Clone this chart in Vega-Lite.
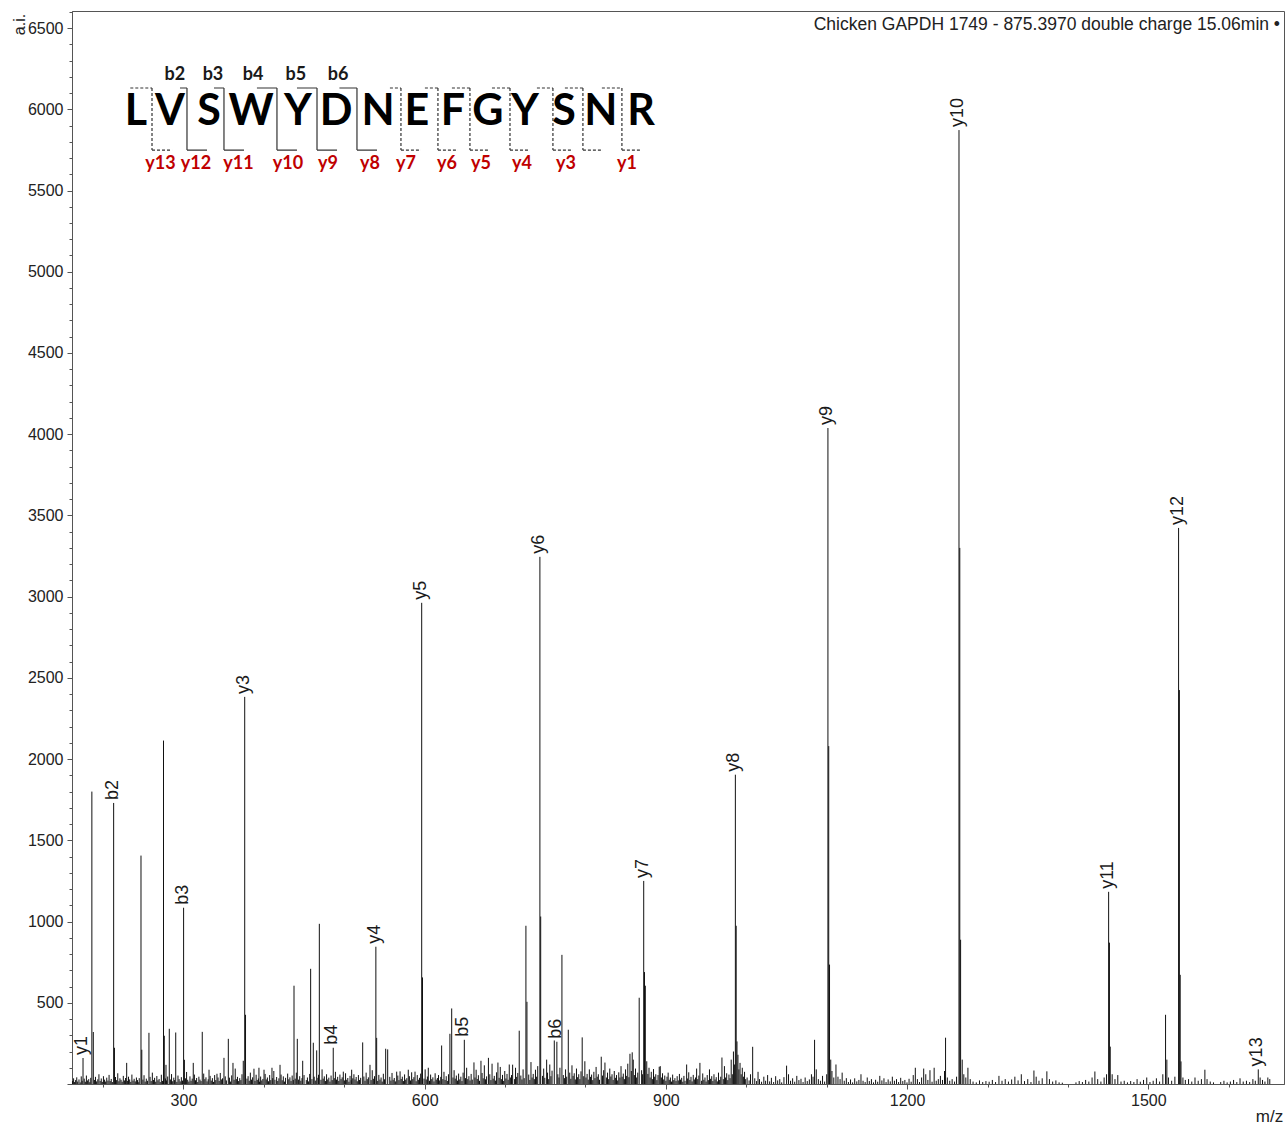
{
"$schema": "https://vega.github.io/schema/vega-lite/v6.json",
"autosize": {"type": "none"},
"width": 1212,
"height": 1073,
"padding": {"left": 72, "top": 11, "right": 2, "bottom": 42},
"background": "white",
"title": {"text": "Chicken GAPDH 1749 - 875.3970 double charge 15.06min •", "anchor": "end", "frame": "group", "orient": "top", "offset": -44, "baseline": "alphabetic", "font": "Liberation Sans", "fontSize": 17.5, "fontWeight": "normal", "color": "#222", "dx": -4},
"config": {"view": {"stroke": "#555", "strokeWidth": 1}, "font": "Liberation Sans"},
"datasets": {
"pk": [
{"m":175.1,"i":160},{"m":186.1,"i":1800},{"m":187.9,"i":320},{"m":213.2,"i":1730},{"m":214.2,"i":223},{"m":229.4,"i":130},{"m":247.2,"i":1406},{"m":248.2,"i":211},{"m":257.1,"i":315},{"m":275.2,"i":2114},{"m":276.2,"i":297},{"m":278.3,"i":118},{"m":282.4,"i":340},{"m":290.4,"i":317},{"m":300.2,"i":1085},{"m":301.2,"i":149},{"m":312.2,"i":130},{"m":323.4,"i":321},{"m":331.8,"i":88},{"m":341.7,"i":63},{"m":350.4,"i":161},{"m":355.8,"i":278},{"m":361.6,"i":130},{"m":374.4,"i":143},{"m":376.2,"i":2383},{"m":377.2,"i":426},{"m":387.7,"i":94},{"m":393.9,"i":100},{"m":400.2,"i":88},{"m":410.1,"i":100},{"m":420.1,"i":118},{"m":437.5,"i":605},{"m":441.6,"i":278},{"m":448.3,"i":143},{"m":458.2,"i":709},{"m":461.5,"i":254},{"m":465.7,"i":207},{"m":469.0,"i":986},{"m":486.3,"i":223},{"m":498.8,"i":76},{"m":509.2,"i":88},{"m":522.9,"i":256},{"m":532.0,"i":118},{"m":539.3,"i":845},{"m":540.3,"i":284},{"m":551.5,"i":217},{"m":554.0,"i":213},{"m":565.2,"i":76},{"m":579.6,"i":88},{"m":588.0,"i":76},{"m":596.3,"i":2962},{"m":597.3,"i":656},{"m":604.5,"i":100},{"m":621.1,"i":237},{"m":631.4,"i":309},{"m":633.6,"i":465},{"m":649.3,"i":272},{"m":661.3,"i":133},{"m":670.0,"i":143},{"m":679.3,"i":161},{"m":691.1,"i":132},{"m":709.4,"i":119},{"m":717.6,"i":328},{"m":725.9,"i":974},{"m":727.2,"i":506},{"m":743.3,"i":3245},{"m":744.3,"i":1031},{"m":751.7,"i":150},{"m":761.2,"i":268},{"m":764.4,"i":260},{"m":770.7,"i":795},{"m":778.6,"i":334},{"m":795.9,"i":287},{"m":819.6,"i":168},{"m":824.2,"i":132},{"m":855.3,"i":186},{"m":858.1,"i":195},{"m":866.8,"i":531},{"m":872.4,"i":1250},{"m":873.4,"i":689},{"m":874.4,"i":605},{"m":891.7,"i":106},{"m":925.8,"i":120},{"m":942.3,"i":130},{"m":969.7,"i":163},{"m":986.4,"i":1904},{"m":987.4,"i":974},{"m":988.4,"i":262},{"m":1007.9,"i":229},{"m":1050.1,"i":113},{"m":1084.9,"i":272},{"m":1101.5,"i":4038},{"m":1102.5,"i":2080},{"m":1103.5,"i":735},{"m":1247.8,"i":285},{"m":1264.5,"i":5872},{"m":1265.5,"i":3300},{"m":1266.5,"i":888},{"m":1450.6,"i":1183},{"m":1451.6,"i":870},{"m":1452.6,"i":230},{"m":1521.4,"i":426},{"m":1537.6,"i":3423},{"m":1538.6,"i":2425},{"m":1539.6,"i":672},{"m":1540.6,"i":139},{"m":1636.7,"i":90},
{"m":162.0,"i":18},{"m":163.4,"i":35},{"m":164.6,"i":12},{"m":165.9,"i":24},{"m":167.3,"i":41},{"m":168.5,"i":15},{"m":170.1,"i":28},{"m":171.6,"i":10},{"m":172.9,"i":47},{"m":174.0,"i":20},{"m":176.6,"i":33},{"m":178.0,"i":14},{"m":179.3,"i":52},{"m":180.8,"i":22},{"m":182.2,"i":30},{"m":183.5,"i":11},{"m":184.7,"i":38},{"m":189.3,"i":25},{"m":190.6,"i":44},{"m":192.0,"i":16},{"m":193.5,"i":29},{"m":194.9,"i":60},{"m":196.4,"i":19},{"m":197.8,"i":34},{"m":199.1,"i":13},{"m":200.5,"i":48},{"m":201.9,"i":27},{"m":203.2,"i":15},{"m":204.6,"i":39},{"m":206.1,"i":21},{"m":207.5,"i":56},{"m":208.9,"i":18},{"m":210.2,"i":31},{"m":211.6,"i":12},{"m":215.5,"i":43},{"m":216.9,"i":24},{"m":218.3,"i":66},{"m":219.7,"i":17},{"m":221.0,"i":35},{"m":222.4,"i":26},{"m":223.8,"i":14},{"m":225.2,"i":50},{"m":226.6,"i":22},{"m":228.0,"i":37},{"m":230.3,"i":19},{"m":231.7,"i":45},{"m":233.1,"i":28},{"m":234.5,"i":13},{"m":235.9,"i":58},{"m":237.3,"i":21},{"m":238.7,"i":32},{"m":240.1,"i":16},{"m":241.5,"i":40},{"m":242.9,"i":24},{"m":244.4,"i":11},{"m":245.0,"i":36},{"m":249.6,"i":27},{"m":251.0,"i":54},{"m":252.4,"i":15},{"m":253.8,"i":33},{"m":255.2,"i":20},{"m":258.5,"i":44},{"m":259.9,"i":18},{"m":261.3,"i":70},{"m":262.7,"i":25},{"m":264.1,"i":38},{"m":265.5,"i":14},{"m":266.9,"i":49},{"m":268.3,"i":23},{"m":269.7,"i":31},{"m":271.1,"i":12},{"m":272.5,"i":57},{"m":273.9,"i":19},{"m":277.6,"i":34},{"m":279.0,"i":22},{"m":280.4,"i":46},{"m":283.8,"i":28},{"m":285.2,"i":61},{"m":286.6,"i":17},{"m":288.0,"i":39},{"m":289.0,"i":24},{"m":291.8,"i":13},{"m":293.2,"i":52},{"m":294.6,"i":30},{"m":296.0,"i":16},{"m":297.4,"i":42},{"m":298.8,"i":21},{"m":302.5,"i":35},{"m":303.9,"i":74},{"m":305.3,"i":26},{"m":306.7,"i":15},{"m":308.1,"i":47},{"m":309.5,"i":20},{"m":310.9,"i":33},{"m":313.6,"i":58},{"m":315.0,"i":23},{"m":316.4,"i":37},{"m":317.8,"i":12},{"m":319.2,"i":45},{"m":320.6,"i":27},{"m":321.9,"i":18},{"m":325.2,"i":64},{"m":326.6,"i":30},{"m":328.0,"i":41},{"m":329.4,"i":16},{"m":330.8,"i":29},{"m":333.2,"i":50},{"m":334.6,"i":21},{"m":336.0,"i":36},{"m":337.4,"i":13},{"m":338.8,"i":55},{"m":340.2,"i":24},{"m":343.0,"i":40},{"m":344.4,"i":19},{"m":345.8,"i":68},{"m":347.2,"i":28},{"m":348.6,"i":35},{"m":352.0,"i":47},{"m":353.4,"i":22},{"m":357.2,"i":39},{"m":358.6,"i":15},{"m":360.0,"i":53},{"m":363.0,"i":26},{"m":364.4,"i":95},{"m":365.8,"i":30},{"m":367.2,"i":44},{"m":368.6,"i":18},{"m":370.0,"i":36},{"m":371.4,"i":24},{"m":372.8,"i":60},{"m":379.0,"i":33},{"m":380.4,"i":48},{"m":381.8,"i":20},{"m":383.2,"i":70},{"m":384.6,"i":27},{"m":386.0,"i":41},{"m":389.0,"i":19},{"m":390.4,"i":57},{"m":391.8,"i":25},{"m":393.2,"i":34},{"m":394.6,"i":14},{"m":396.0,"i":46},{"m":397.4,"i":22},{"m":398.8,"i":31},
{"m":401.6,"i":62},{"m":403.0,"i":28},{"m":404.4,"i":40},{"m":405.8,"i":17},{"m":407.2,"i":55},{"m":408.6,"i":24},{"m":411.0,"i":36},{"m":412.4,"i":80},{"m":413.8,"i":26},{"m":415.9,"i":43},{"m":417.3,"i":19},{"m":418.7,"i":35},{"m":421.4,"i":58},{"m":422.8,"i":23},{"m":424.2,"i":47},{"m":425.6,"i":15},{"m":427.0,"i":38},{"m":429.6,"i":64},{"m":431.0,"i":29},{"m":432.4,"i":41},{"m":433.8,"i":18},{"m":435.2,"i":52},{"m":436.6,"i":25},{"m":439.0,"i":33},{"m":440.4,"i":70},{"m":443.2,"i":27},{"m":444.6,"i":48},{"m":446.0,"i":20},{"m":447.4,"i":36},{"m":450.0,"i":55},{"m":452.8,"i":24},{"m":454.2,"i":40},{"m":455.6,"i":16},{"m":457.0,"i":62},{"m":459.8,"i":30},{"m":462.6,"i":45},{"m":464.0,"i":21},{"m":467.2,"i":38},{"m":468.0,"i":57},{"m":471.0,"i":26},{"m":472.4,"i":90},{"m":473.8,"i":33},{"m":475.2,"i":47},{"m":476.6,"i":18},{"m":478.0,"i":60},{"m":479.4,"i":28},{"m":480.8,"i":39},{"m":482.2,"i":15},{"m":483.6,"i":52},{"m":485.0,"i":24},{"m":487.6,"i":36},{"m":489.0,"i":75},{"m":490.4,"i":27},{"m":491.8,"i":44},{"m":493.2,"i":19},{"m":494.6,"i":58},{"m":496.0,"i":30},{"m":497.4,"i":41},{"m":500.2,"i":22},{"m":501.6,"i":66},{"m":503.0,"i":26},{"m":504.4,"i":37},{"m":505.8,"i":14},{"m":507.2,"i":50},{"m":508.6,"i":23},{"m":510.6,"i":35},{"m":512.0,"i":60},{"m":513.4,"i":28},{"m":514.8,"i":43},{"m":516.2,"i":17},{"m":517.6,"i":55},{"m":519.0,"i":25},{"m":520.4,"i":38},{"m":524.4,"i":46},{"m":525.8,"i":20},{"m":527.2,"i":70},{"m":528.6,"i":30},{"m":530.0,"i":41},{"m":533.4,"i":24},{"m":534.8,"i":85},{"m":536.2,"i":32},{"m":537.6,"i":48},{"m":541.6,"i":19},{"m":543.0,"i":56},{"m":544.4,"i":27},{"m":545.8,"i":40},{"m":547.2,"i":15},{"m":548.6,"i":63},{"m":550.0,"i":29},{"m":556.6,"i":44},{"m":558.0,"i":21},{"m":559.4,"i":68},{"m":560.8,"i":26},{"m":562.2,"i":37},{"m":563.6,"i":16},{"m":566.6,"i":52},{"m":568.0,"i":24},{"m":569.4,"i":78},{"m":570.8,"i":31},{"m":572.2,"i":45},{"m":573.6,"i":18},{"m":575.0,"i":59},{"m":576.4,"i":27},{"m":577.8,"i":36},{"m":581.0,"i":48},{"m":582.4,"i":22},{"m":583.8,"i":72},{"m":585.2,"i":30},{"m":586.6,"i":42},{"m":589.4,"i":17},{"m":590.8,"i":55},{"m":592.2,"i":26},{"m":593.6,"i":38},{"m":595.0,"i":64},{"m":599.2,"i":33},{"m":600.6,"i":90},{"m":602.0,"i":28},{"m":603.4,"i":46},{"m":606.0,"i":20},{"m":607.4,"i":58},{"m":608.8,"i":30},{"m":610.2,"i":41},{"m":611.6,"i":16},{"m":613.0,"i":66},{"m":614.4,"i":27},{"m":615.8,"i":37},{"m":617.2,"i":55},{"m":618.6,"i":22},{"m":620.0,"i":44},{"m":622.6,"i":30},{"m":624.0,"i":75},{"m":625.4,"i":25},{"m":626.8,"i":48},{"m":628.2,"i":19},{"m":629.6,"i":60},{"m":635.2,"i":40},{"m":636.6,"i":85},{"m":638.0,"i":33},{"m":639.4,"i":52},{"m":640.8,"i":21},{"m":642.2,"i":64},{"m":643.6,"i":28},{"m":645.0,"i":45},{"m":646.4,"i":18},{"m":647.8,"i":70},{"m":650.8,"i":36},{"m":652.2,"i":100},{"m":653.6,"i":30},{"m":655.0,"i":48},{"m":656.4,"i":22},{"m":657.8,"i":62},{"m":659.2,"i":27},{"m":662.6,"i":40},{"m":664.0,"i":88},{"m":665.4,"i":31},{"m":666.8,"i":54},{"m":668.2,"i":20},{"m":671.4,"i":68},{"m":672.8,"i":35},{"m":674.2,"i":115},{"m":675.6,"i":29},{"m":677.0,"i":47},{"m":681.0,"i":60},{"m":682.4,"i":24},{"m":683.8,"i":125},{"m":685.2,"i":33},{"m":686.6,"i":50},{"m":688.0,"i":21},{"m":689.4,"i":72},{"m":692.6,"i":38},{"m":694.0,"i":105},{"m":695.4,"i":30},{"m":696.8,"i":56},{"m":698.2,"i":19},{"m":699.6,"i":80},{"m":701.0,"i":34},{"m":702.4,"i":62},{"m":703.8,"i":26},{"m":705.2,"i":120},{"m":706.6,"i":40},{"m":708.0,"i":55},{"m":711.6,"i":30},{"m":713.0,"i":100},{"m":714.4,"i":44},{"m":715.8,"i":68},{"m":719.6,"i":52},{"m":721.0,"i":28},{"m":722.4,"i":90},{"m":723.8,"i":36},{"m":729.4,"i":58},{"m":730.8,"i":25},{"m":732.2,"i":135},{"m":733.6,"i":40},{"m":735.0,"i":62},{"m":736.4,"i":30},{"m":737.8,"i":88},{"m":739.2,"i":45},{"m":740.6,"i":110},{"m":746.6,"i":50},{"m":748.0,"i":95},{"m":749.4,"i":38},{"m":752.8,"i":70},{"m":754.2,"i":30},{"m":755.6,"i":120},{"m":757.0,"i":48},{"m":758.4,"i":82},{"m":765.6,"i":60},{"m":767.0,"i":40},{"m":768.2,"i":100},{"m":772.4,"i":55},{"m":773.8,"i":36},{"m":775.2,"i":90},{"m":776.6,"i":45},{"m":780.4,"i":70},{"m":781.8,"i":32},{"m":783.2,"i":115},{"m":784.6,"i":50},{"m":786.0,"i":66},{"m":787.4,"i":28},{"m":788.8,"i":95},{"m":790.2,"i":42},{"m":791.6,"i":60},{"m":793.0,"i":30},{"m":794.4,"i":78},{"m":797.8,"i":48},{"m":799.2,"i":140},{"m":800.6,"i":40},{"m":802.0,"i":62},{"m":803.4,"i":27},{"m":804.8,"i":90},{"m":806.2,"i":44},{"m":807.6,"i":58},{"m":809.0,"i":24},{"m":810.4,"i":75},{"m":811.8,"i":36},{"m":813.2,"i":105},{"m":814.6,"i":45},{"m":816.0,"i":60},{"m":817.4,"i":26},{"m":821.2,"i":52},{"m":822.6,"i":85},{"m":826.0,"i":40},{"m":827.4,"i":70},{"m":828.8,"i":30},{"m":830.2,"i":95},{"m":831.6,"i":46},{"m":833.0,"i":60},{"m":834.4,"i":25},{"m":835.8,"i":80},{"m":837.2,"i":38},{"m":838.6,"i":55},{"m":840.0,"i":22},{"m":841.4,"i":72},{"m":842.8,"i":40},{"m":844.2,"i":110},{"m":845.6,"i":45},{"m":847.0,"i":64},{"m":848.4,"i":30},{"m":849.8,"i":90},{"m":851.2,"i":50},{"m":852.6,"i":125},{"m":854.0,"i":42},{"m":857.0,"i":80},{"m":859.4,"i":150},{"m":860.8,"i":55},{"m":862.2,"i":95},{"m":863.6,"i":40},{"m":865.0,"i":70},{"m":869.8,"i":85},{"m":871.0,"i":60},{"m":876.2,"i":140},{"m":877.6,"i":62},{"m":879.0,"i":100},{"m":880.4,"i":40},{"m":881.8,"i":75},{"m":883.2,"i":30},{"m":884.6,"i":92},{"m":886.0,"i":45},{"m":887.4,"i":60},{"m":888.8,"i":24},{"m":890.2,"i":55},{"m":893.0,"i":110},{"m":894.4,"i":40},{"m":895.8,"i":66},{"m":897.2,"i":28},{"m":898.6,"i":52},{"m":900.0,"i":20},{"m":901.4,"i":45},{"m":902.8,"i":70},{"m":904.2,"i":26},{"m":905.6,"i":40},{"m":907.0,"i":15},{"m":908.4,"i":58},{"m":909.8,"i":24},{"m":911.2,"i":36},{"m":912.6,"i":18},{"m":914.0,"i":48},{"m":915.4,"i":22},{"m":916.8,"i":62},{"m":918.2,"i":27},{"m":919.6,"i":38},{"m":921.0,"i":14},{"m":922.4,"i":50},{"m":923.8,"i":20},{"m":927.0,"i":34},{"m":928.4,"i":72},{"m":929.8,"i":25},{"m":931.2,"i":44},{"m":932.6,"i":16},{"m":934.0,"i":56},{"m":935.4,"i":28},{"m":936.8,"i":40},{"m":938.2,"i":95},{"m":939.6,"i":30},{"m":941.0,"i":52},{"m":944.4,"i":20},{"m":945.8,"i":65},{"m":947.2,"i":26},{"m":948.6,"i":40},{"m":950.0,"i":15},{"m":951.4,"i":55},{"m":952.8,"i":24},{"m":954.2,"i":90},{"m":955.6,"i":32},{"m":957.0,"i":48},{"m":958.4,"i":18},{"m":959.8,"i":60},{"m":961.2,"i":28},{"m":962.6,"i":42},{"m":964.0,"i":16},{"m":965.4,"i":70},{"m":966.8,"i":25},{"m":968.2,"i":45},{"m":971.4,"i":30},{"m":972.8,"i":110},{"m":974.2,"i":40},{"m":975.6,"i":66},{"m":977.0,"i":24},{"m":978.4,"i":58},{"m":979.8,"i":36},{"m":981.2,"i":150},{"m":982.6,"i":60},{"m":984.0,"i":200},{"m":985.2,"i":120},{"m":989.6,"i":180},{"m":990.8,"i":90},{"m":992.2,"i":130},{"m":993.6,"i":60},{"m":995.0,"i":100},{"m":996.4,"i":45},{"m":997.8,"i":75},{"m":999.2,"i":30},
{"m":1001.0,"i":40},{"m":1003.5,"i":22},{"m":1005.2,"i":60},{"m":1010.5,"i":35},{"m":1012.8,"i":18},{"m":1014.6,"i":75},{"m":1016.4,"i":30},{"m":1019.0,"i":14},{"m":1021.8,"i":45},{"m":1024.0,"i":20},{"m":1026.5,"i":55},{"m":1029.0,"i":16},{"m":1031.2,"i":38},{"m":1034.0,"i":12},{"m":1036.5,"i":48},{"m":1039.0,"i":22},{"m":1041.6,"i":30},{"m":1044.0,"i":10},{"m":1046.8,"i":42},{"m":1052.5,"i":60},{"m":1055.0,"i":20},{"m":1057.6,"i":35},{"m":1060.2,"i":14},{"m":1062.8,"i":50},{"m":1065.4,"i":24},{"m":1068.0,"i":32},{"m":1070.6,"i":12},{"m":1073.2,"i":40},{"m":1075.8,"i":18},{"m":1078.4,"i":28},{"m":1081.0,"i":60},{"m":1083.0,"i":45},{"m":1087.0,"i":90},{"m":1089.6,"i":30},{"m":1092.2,"i":20},{"m":1094.8,"i":50},{"m":1097.4,"i":15},{"m":1100.0,"i":60},{"m":1105.0,"i":150},{"m":1106.5,"i":80},{"m":1108.8,"i":40},{"m":1111.5,"i":120},{"m":1114.0,"i":45},{"m":1116.6,"i":30},{"m":1119.2,"i":70},{"m":1121.8,"i":20},{"m":1124.4,"i":36},{"m":1127.0,"i":12},{"m":1129.6,"i":28},{"m":1132.2,"i":10},{"m":1134.8,"i":35},{"m":1137.4,"i":16},{"m":1140.0,"i":25},{"m":1142.6,"i":60},{"m":1145.2,"i":20},{"m":1147.8,"i":12},{"m":1150.4,"i":40},{"m":1153.0,"i":18},{"m":1155.6,"i":30},{"m":1158.2,"i":10},{"m":1160.8,"i":26},{"m":1163.4,"i":14},{"m":1166.0,"i":50},{"m":1168.6,"i":22},{"m":1171.2,"i":35},{"m":1173.8,"i":12},{"m":1176.4,"i":28},{"m":1179.0,"i":16},{"m":1181.6,"i":45},{"m":1184.2,"i":20},{"m":1186.8,"i":30},{"m":1189.4,"i":12},{"m":1192.0,"i":38},{"m":1194.6,"i":18},{"m":1197.2,"i":25},{"m":1199.8,"i":10},{"m":1202.4,"i":32},{"m":1205.0,"i":14},{"m":1207.6,"i":55},{"m":1210.2,"i":100},{"m":1212.8,"i":30},{"m":1215.4,"i":12},{"m":1218.0,"i":40},{"m":1220.6,"i":95},{"m":1223.2,"i":60},{"m":1225.8,"i":25},{"m":1228.4,"i":85},{"m":1231.0,"i":14},{"m":1233.6,"i":100},{"m":1236.2,"i":20},{"m":1238.8,"i":30},{"m":1241.4,"i":50},{"m":1244.0,"i":25},{"m":1246.5,"i":80},{"m":1250.0,"i":40},{"m":1253.0,"i":20},{"m":1256.0,"i":30},{"m":1259.0,"i":15},{"m":1261.5,"i":45},
{"m":1268.5,"i":150},{"m":1270.5,"i":60},{"m":1273.0,"i":40},{"m":1275.6,"i":100},{"m":1278.5,"i":30},{"m":1282.0,"i":15},{"m":1286.0,"i":10},{"m":1290.0,"i":22},{"m":1294.0,"i":12},{"m":1298.0,"i":18},{"m":1302.0,"i":14},{"m":1306.0,"i":25},{"m":1310.0,"i":12},{"m":1314.2,"i":50},{"m":1318.0,"i":20},{"m":1322.0,"i":30},{"m":1326.0,"i":15},{"m":1330.0,"i":28},{"m":1334.0,"i":45},{"m":1338.0,"i":22},{"m":1342.0,"i":60},{"m":1346.0,"i":18},{"m":1350.0,"i":30},{"m":1354.0,"i":12},{"m":1357.7,"i":83},{"m":1360.5,"i":45},{"m":1364.0,"i":20},{"m":1368.0,"i":35},{"m":1373.8,"i":78},{"m":1377.0,"i":30},{"m":1381.0,"i":15},{"m":1385.0,"i":22},{"m":1389.0,"i":10},{"m":1393.0,"i":8},{"m":1410.0,"i":10},{"m":1414.0,"i":18},{"m":1418.0,"i":12},{"m":1422.0,"i":25},{"m":1426.0,"i":15},{"m":1430.0,"i":40},{"m":1433.5,"i":77},{"m":1437.0,"i":30},{"m":1441.0,"i":15},{"m":1445.0,"i":40},{"m":1448.0,"i":60},
{"m":1455.0,"i":60},{"m":1458.5,"i":30},{"m":1462.0,"i":55},{"m":1466.0,"i":15},{"m":1470.0,"i":20},{"m":1474.0,"i":10},{"m":1478.0,"i":18},{"m":1482.0,"i":12},{"m":1486.0,"i":30},{"m":1490.0,"i":14},{"m":1494.0,"i":25},{"m":1498.0,"i":40},{"m":1502.0,"i":12},{"m":1506.0,"i":20},{"m":1510.0,"i":35},{"m":1514.0,"i":15},{"m":1518.0,"i":60},{"m":1523.0,"i":150},{"m":1525.0,"i":40},{"m":1529.0,"i":20},{"m":1533.0,"i":45},
{"m":1543.0,"i":40},{"m":1546.0,"i":25},{"m":1550.0,"i":30},{"m":1554.0,"i":15},{"m":1558.0,"i":40},{"m":1562.0,"i":20},{"m":1566.0,"i":30},{"m":1570.3,"i":88},{"m":1573.0,"i":30},{"m":1577.0,"i":15},{"m":1581.0,"i":10},{"m":1590.0,"i":12},{"m":1594.0,"i":20},{"m":1598.0,"i":10},{"m":1602.0,"i":15},{"m":1606.0,"i":25},{"m":1610.0,"i":12},{"m":1614.0,"i":35},{"m":1618.0,"i":15},{"m":1622.0,"i":20},{"m":1626.0,"i":12},{"m":1630.0,"i":30},{"m":1633.0,"i":20},{"m":1639.0,"i":40},{"m":1642.0,"i":25},{"m":1645.0,"i":15},{"m":1648.6,"i":40},{"m":1651.0,"i":30}
],
"lab": [
{"m":175.1,"i":160,"t":"y1"},{"m":213.2,"i":1730,"t":"b2"},{"m":300.2,"i":1085,"t":"b3"},{"m":376.2,"i":2383,"t":"y3"},{"m":486.3,"i":223,"t":"b4"},{"m":539.3,"i":845,"t":"y4"},{"m":596.3,"i":2962,"t":"y5"},{"m":649.3,"i":272,"t":"b5"},{"m":743.3,"i":3245,"t":"y6"},{"m":764.4,"i":260,"t":"b6"},{"m":872.4,"i":1250,"t":"y7"},{"m":986.4,"i":1904,"t":"y8"},{"m":1101.5,"i":4038,"t":"y9"},{"m":1264.5,"i":5872,"t":"y10"},{"m":1450.6,"i":1183,"t":"y11"},{"m":1537.6,"i":3423,"t":"y12"},{"m":1636.7,"i":90,"t":"y13"}
],
"seq": [
{"m":241.0,"i":5903,"t":"L"},{"m":283.3,"i":5903,"t":"V"},{"m":331.8,"i":5903,"t":"S"},{"m":384.0,"i":5903,"t":"W"},{"m":442.4,"i":5903,"t":"Y"},{"m":489.7,"i":5903,"t":"D"},{"m":541.9,"i":5903,"t":"N"},{"m":590.4,"i":5903,"t":"E"},{"m":635.2,"i":5903,"t":"F"},{"m":678.7,"i":5903,"t":"G"},{"m":724.7,"i":5903,"t":"Y"},{"m":773.2,"i":5903,"t":"S"},{"m":819.2,"i":5903,"t":"N"},{"m":869.0,"i":5903,"t":"R"}
],
"bi": [
{"m":289.4,"i":6180,"t":"b2"},{"m":336.7,"i":6180,"t":"b3"},{"m":386.5,"i":6180,"t":"b4"},{"m":439.9,"i":6180,"t":"b5"},{"m":492.2,"i":6180,"t":"b6"}
],
"yi": [
{"m":271.5,"i":5632,"t":"y13"},{"m":315.5,"i":5632,"t":"y12"},{"m":368.5,"i":5632,"t":"y11"},{"m":430.0,"i":5632,"t":"y10"},{"m":479.7,"i":5632,"t":"y9"},{"m":531.9,"i":5632,"t":"y8"},{"m":576.7,"i":5632,"t":"y7"},{"m":627.7,"i":5632,"t":"y6"},{"m":670.0,"i":5632,"t":"y5"},{"m":721.0,"i":5632,"t":"y4"},{"m":775.7,"i":5632,"t":"y3"},{"m":851.5,"i":5632,"t":"y1"}
],
"br": [
{"m":260.9,"m2":260.9,"i":6131,"i2":5749,"d":"d"},{"m":233.9,"m2":260.9,"i":6131,"i2":6131,"d":"d"},{"m":260.9,"m2":285.8,"i":5749,"i2":5749,"d":"d"},
{"m":304.4,"m2":304.4,"i":6131,"i2":5749,"d":"s"},{"m":295.7,"m2":304.4,"i":6131,"i2":6131,"d":"s"},{"m":304.4,"m2":329.3,"i":5749,"i2":5749,"d":"s"},
{"m":350.4,"m2":350.4,"i":6131,"i2":5749,"d":"s"},{"m":338.0,"m2":350.4,"i":6131,"i2":6131,"d":"s"},{"m":350.4,"m2":375.3,"i":5749,"i2":5749,"d":"s"},
{"m":416.3,"m2":416.3,"i":6131,"i2":5749,"d":"s"},{"m":391.4,"m2":416.3,"i":6131,"i2":6131,"d":"s"},{"m":416.3,"m2":441.2,"i":5749,"i2":5749,"d":"s"},
{"m":466.1,"m2":466.1,"i":6131,"i2":5749,"d":"s"},{"m":441.2,"m2":466.1,"i":6131,"i2":6131,"d":"s"},{"m":466.1,"m2":491.0,"i":5749,"i2":5749,"d":"s"},
{"m":515.8,"m2":515.8,"i":6131,"i2":5749,"d":"s"},{"m":494.0,"m2":515.8,"i":6131,"i2":6131,"d":"s"},{"m":515.8,"m2":540.7,"i":5749,"i2":5749,"d":"s"},
{"m":570.5,"m2":570.5,"i":6131,"i2":5749,"d":"d"},{"m":556.8,"m2":570.5,"i":6131,"i2":6131,"d":"d"},{"m":570.5,"m2":595.4,"i":5749,"i2":5749,"d":"d"},
{"m":616.5,"m2":616.5,"i":6131,"i2":5749,"d":"d"},{"m":600.3,"m2":616.5,"i":6131,"i2":6131,"d":"d"},{"m":616.5,"m2":641.4,"i":5749,"i2":5749,"d":"d"},
{"m":656.3,"m2":656.3,"i":6131,"i2":5749,"d":"d"},{"m":633.9,"m2":656.3,"i":6131,"i2":6131,"d":"d"},{"m":656.3,"m2":681.2,"i":5749,"i2":5749,"d":"d"},
{"m":706.1,"m2":706.1,"i":6131,"i2":5749,"d":"d"},{"m":683.7,"m2":706.1,"i":6131,"i2":6131,"d":"d"},{"m":706.1,"m2":731.0,"i":5749,"i2":5749,"d":"d"},
{"m":759.5,"m2":759.5,"i":6131,"i2":5749,"d":"d"},{"m":739.6,"m2":759.5,"i":6131,"i2":6131,"d":"d"},{"m":759.5,"m2":784.4,"i":5749,"i2":5749,"d":"d"},
{"m":796.8,"m2":796.8,"i":6131,"i2":5749,"d":"d"},{"m":774.4,"m2":796.8,"i":6131,"i2":6131,"d":"d"},{"m":796.8,"m2":821.7,"i":5749,"i2":5749,"d":"d"},
{"m":845.3,"m2":845.3,"i":6131,"i2":5749,"d":"d"},{"m":820.4,"m2":845.3,"i":6131,"i2":6131,"d":"d"},{"m":845.3,"m2":867.7,"i":5749,"i2":5749,"d":"d"}
]
},
"encoding": {
"x": {"field": "m", "type": "quantitative", "scale": {"domain": [161.4, 1668.7], "nice": false, "zero": false},
 "axis": {"values": [200,300,400,500,600,700,800,900,1000,1100,1200,1300,1400,1500,1600], "format": "d",
  "labelExpr": "datum.value % 300 === 0 ? datum.label : ''", "labelOverlap": false, "labelFlush": false, "labelBound": false,
  "tickSize": {"condition": {"test": "datum.value % 300 === 0", "value": 5}, "value": 3},
  "labelPadding": 3, "labelFont": "Liberation Sans", "labelFontSize": 16, "labelColor": "#222",
  "domainColor": "#555", "tickColor": "#555", "grid": false,
  "title": "m/z", "titleX": 1197, "titleY": 37, "titleAlign": "center", "titleBaseline": "alphabetic", "titleFont": "Liberation Sans", "titleFontSize": 17, "titleFontWeight": "normal", "titleColor": "#222"}},
"y": {"field": "i", "type": "quantitative", "scale": {"domain": [0, 6605], "nice": false},
 "axis": {"values": [0,100,200,300,400,500,600,700,800,900,1000,1100,1200,1300,1400,1500,1600,1700,1800,1900,2000,2100,2200,2300,2400,2500,2600,2700,2800,2900,3000,3100,3200,3300,3400,3500,3600,3700,3800,3900,4000,4100,4200,4300,4400,4500,4600,4700,4800,4900,5000,5100,5200,5300,5400,5500,5600,5700,5800,5900,6000,6100,6200,6300,6400,6500,6600], "format": "d",
  "labelExpr": "datum.value % 500 === 0 && datum.value > 0 ? datum.label : ''", "labelOverlap": false, "labelBound": false, "labelFlush": false,
  "tickSize": {"condition": {"test": "datum.value % 500 === 0", "value": 5}, "value": 3},
  "labelPadding": 4, "labelFont": "Liberation Sans", "labelFontSize": 16, "labelColor": "#222",
  "domainColor": "#555", "tickColor": "#555", "grid": false,
  "title": "a.i.", "titleAngle": 270, "titleX": -48, "titleY": 13, "titleAlign": "center", "titleBaseline": "alphabetic", "titleFont": "Liberation Sans", "titleFontSize": 16, "titleFontWeight": "normal", "titleColor": "#222"}}
},
"layer": [
{"data": {"name": "pk"}, "mark": {"type": "rule", "color": "#111", "strokeWidth": 1}, "encoding": {"y2": {"datum": 0}}},
{"data": {"name": "lab"}, "mark": {"type": "text", "angle": 270, "align": "left", "baseline": "middle", "dx": 3, "dy": -1, "font": "Liberation Sans", "fontSize": 18, "color": "#1a1a1a"}, "encoding": {"text": {"field": "t"}}},
{"data": {"name": "br"}, "mark": {"type": "rule", "color": "#333", "strokeWidth": 1.2}, "encoding": {"x2": {"field": "m2"}, "y2": {"field": "i2"}, "strokeDash": {"field": "d", "type": "nominal", "scale": {"domain": ["s", "d"], "range": [[1, 0], [3, 2]]}, "legend": null}}},
{"data": {"name": "seq"}, "mark": {"type": "text", "align": "center", "baseline": "alphabetic", "font": "Lato", "fontWeight": "bold", "fontSize": 43, "color": "#000"}, "encoding": {"text": {"field": "t"}}},
{"data": {"name": "bi"}, "mark": {"type": "text", "align": "center", "baseline": "alphabetic", "font": "Lato", "fontWeight": "bold", "fontSize": 18, "color": "#1a1a1a"}, "encoding": {"text": {"field": "t"}}},
{"data": {"name": "yi"}, "mark": {"type": "text", "align": "center", "baseline": "alphabetic", "font": "Lato", "fontWeight": "bold", "fontSize": 18, "color": "#c00000"}, "encoding": {"text": {"field": "t"}}}
]
}
